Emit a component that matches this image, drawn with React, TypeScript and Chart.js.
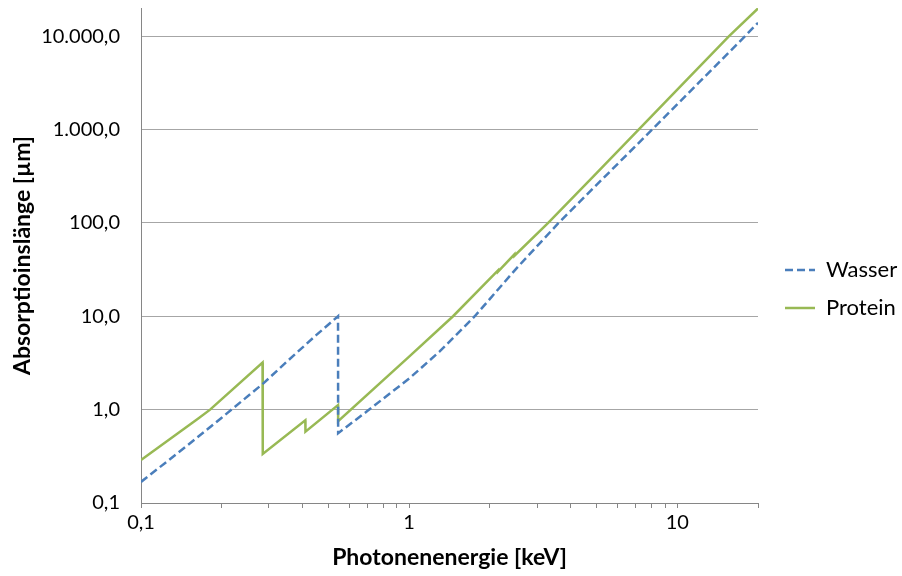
import React, { useEffect, useRef } from "react";
import { Chart, registerables } from "chart.js";

Chart.register(...registerables);

// Photon energy (keV) and absorption length (µm)
const wasserEnergy = [0.1, 0.15, 0.2, 0.286, 0.35, 0.45, 0.543, 0.5435, 0.7, 0.85, 1.0, 1.3, 1.757, 2.5, 3.61, 5, 8.06, 12, 17.9, 20];
const wasserLength = [0.168, 0.42, 0.82, 1.91, 3.27, 6.27, 10.0, 0.56, 0.97, 1.5, 2.15, 4.2, 10, 32, 100, 255, 1000, 3150, 10000, 13900];

const proteinEnergy = [0.1, 0.164, 0.181, 0.284, 0.2845, 0.41, 0.4105, 0.543, 0.5435, 1.0, 1.458, 2.145, 2.146, 2.47, 2.471, 3.3, 5, 7.19, 11, 15.6, 20];
const proteinLength = [0.288, 0.807, 1.0, 3.2, 0.335, 0.77, 0.58, 1.12, 0.75, 3.7, 10, 31, 30, 46, 44.5, 100, 341, 1000, 3540, 10000, 19800];

const xTickValues = [0.1, 0.2, 0.3, 0.4, 0.5, 0.6, 0.7, 0.8, 0.9, 1, 2, 3, 4, 5, 6, 7, 8, 9, 10, 20];
const xTickLabels: Record<string, string> = { "0.1": "0,1", "1": "1", "10": "10" };
const yTickValues = [0.1, 1, 10, 100, 1000, 10000];
const yTickLabels = ["0,1", "1,0", "10,0", "100,0", "1.000,0", "10.000,0"];

const seriesNames = ["Wasser", "Protein"];
const BLUE = "#4a7ebb";
const GREEN = "#98b954";
const FONT = "Lato";
const LINE_W = 2.5;

const legendPlacer = {
  id: "legendPlacer",
  beforeLayout(chart: any) {
    const l = chart.legend;
    if (l && !l.__patched) {
      const orig = l.fit;
      l.fit = function () {
        orig.call(this);
        this.width = 144;
      };
      l.__patched = true;
    }
  },
  afterLayout(chart: any) {
    const l = chart.legend;
    if (l) {
      l.left += 11;
      l.right += 11;
      l.top -= 3;
      l.bottom -= 3;
    }
  },
};

export default function App() {
  const ref = useRef<HTMLCanvasElement | null>(null);
  useEffect(() => {
    if (!ref.current) return;
    const toPts = (xs: number[], ys: number[]) => xs.map((x, i) => ({ x, y: ys[i] }));
    const chart = new Chart(ref.current, {
      type: "line",
      data: {
        datasets: [
          {
            label: seriesNames[0],
            data: toPts(wasserEnergy, wasserLength),
            borderColor: BLUE,
            backgroundColor: BLUE,
            borderWidth: LINE_W,
            borderDash: [8, 4],
            pointRadius: 0,
            pointStyle: "line",
            tension: 0,
          },
          {
            label: seriesNames[1],
            data: toPts(proteinEnergy, proteinLength),
            borderColor: GREEN,
            backgroundColor: GREEN,
            borderWidth: LINE_W,
            pointRadius: 0,
            pointStyle: "line",
            tension: 0,
          },
        ],
      },
      options: {
        animation: false,
        responsive: true,
        maintainAspectRatio: false,
        parsing: false as any,
        layout: { padding: { top: 8, left: 0, right: 0, bottom: 0 } },
        plugins: {
          tooltip: { enabled: false },
          legend: {
            position: "right",
            labels: {
              usePointStyle: true,
              pointStyleWidth: 30,
              padding: 16,
              color: "#000",
              font: { family: FONT, size: 22 },
              generateLabels: (c: any) =>
                c.data.datasets.map((ds: any, i: number) => ({
                  text: ds.label,
                  datasetIndex: i,
                  fillStyle: ds.borderColor,
                  strokeStyle: ds.borderColor,
                  lineWidth: LINE_W,
                  lineDash: ds.borderDash || [],
                  lineCap: "butt",
                  pointStyle: "line",
                  hidden: false,
                  fontColor: "#000",
                })),
            },
          },
        },
        scales: {
          x: {
            type: "logarithmic",
            min: 0.1,
            max: 20,
            afterBuildTicks: (scale: any) => {
              scale.ticks = xTickValues.map((v) => ({ value: v }));
            },
            afterFit: (scale: any) => {
              scale.height = 73;
              scale.paddingLeft = 0;
              scale.paddingRight = 0;
            },
            ticks: {
              autoSkip: false,
              maxRotation: 0,
              padding: 3,
              color: "#000",
              font: { family: FONT, size: 20 },
              callback: (v: any) => xTickLabels[String(v)] ?? "",
            },
            grid: { drawOnChartArea: false, drawTicks: true, tickLength: 5, color: "#868686" },
            border: { display: true, color: "#868686", width: 1 },
            title: {
              display: true,
              text: "Photonenenergie [keV]",
              color: "#000",
              font: { family: FONT, size: 23, weight: "bold" },
              padding: { top: 6, bottom: 5 },
            },
          },
          y: {
            type: "logarithmic",
            min: 0.1,
            max: 20000,
            afterBuildTicks: (scale: any) => {
              scale.ticks = yTickValues.map((v) => ({ value: v }));
            },
            afterFit: (scale: any) => {
              scale.width = 141;
              scale.paddingTop = 0;
              scale.paddingBottom = 0;
            },
            ticks: {
              autoSkip: false,
              padding: 21,
              color: "#000",
              font: { family: FONT, size: 20 },
              callback: (v: any) => {
                const i = yTickValues.indexOf(Number(v));
                return i >= 0 ? yTickLabels[i] : "";
              },
            },
            grid: { drawTicks: false, color: "#a6a6a6" },
            border: { display: true, color: "#868686", width: 1 },
            title: {
              display: true,
              text: "Absorptioinslänge [µm]",
              color: "#000",
              font: { family: FONT, size: 23, weight: "bold" },
              padding: { top: 9, bottom: 6 },
            },
          },
        },
      },
      plugins: [legendPlacer],
    });
    return () => chart.destroy();
  }, []);
  return (
    <div style={{ position: "absolute", left: 0, top: 0, width: 902, height: 576 }}>
      <canvas ref={ref} />
    </div>
  );
}
